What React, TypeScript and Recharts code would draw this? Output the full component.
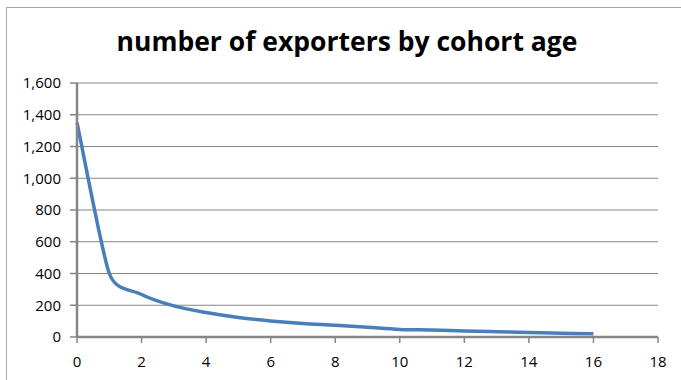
import React from "react";
import { LineChart, Line, XAxis, YAxis, CartesianGrid } from "recharts";

// Cohort age (years) and the number of exporters still active at that age
const cohortAge = [0, 1, 2, 3, 4, 5, 6, 7, 8, 9, 10, 11, 12, 13, 14, 15, 16];
const exporters = [1350, 400, 268, 196, 154, 123, 101, 85, 74, 61, 48, 44, 38, 33, 28, 24, 20];

const xTicks = [0, 2, 4, 6, 8, 10, 12, 14, 16, 18];
const yTicks = [0, 200, 400, 600, 800, 1000, 1200, 1400, 1600];

const chartTitle = "number of exporters by cohort age";

const data = cohortAge.map((age, i) => ({ age, count: exporters[i] }));

const FONT = "'Open Sans', 'Noto Sans', sans-serif";
const AXIS = "#868686";

const fmt = (v: number) => v.toLocaleString("en-US");

type Pt = [number, number];
const dist = (a: Pt, b: Pt) => Math.hypot(b[0] - a[0], b[1] - a[1]);

// Spreadsheet-style smoothed line: at each vertex the tangent follows the
// chord between its neighbours, with arms of one sixth of that chord,
// shortened to half of the shorter adjacent segment so nothing overshoots.
function smoothCurve(context: any) {
  let pts: Pt[] = [];
  const arm = (i: number): Pt => {
    const n = pts.length;
    const prev = pts[Math.max(0, i - 1)];
    const next = pts[Math.min(n - 1, i + 1)];
    const dx = next[0] - prev[0];
    const dy = next[1] - prev[1];
    const chord = Math.hypot(dx, dy);
    if (chord === 0) return [0, 0];
    let len = chord / 6;
    const segs: number[] = [];
    if (i > 0) segs.push(dist(pts[i - 1], pts[i]));
    if (i < n - 1) segs.push(dist(pts[i], pts[i + 1]));
    const limit = Math.min(...segs) / 2;
    if (len > limit) len = limit;
    return [(dx / chord) * len, (dy / chord) * len];
  };
  return {
    areaStart() {},
    areaEnd() {},
    lineStart() {
      pts = [];
    },
    point(x: number, y: number) {
      pts.push([+x, +y]);
    },
    lineEnd() {
      const n = pts.length;
      if (!n) return;
      context.moveTo(pts[0][0], pts[0][1]);
      for (let i = 0; i < n - 1; i++) {
        const a = arm(i);
        const b = arm(i + 1);
        const p1 = pts[i];
        const p2 = pts[i + 1];
        context.bezierCurveTo(
          p1[0] + a[0],
          p1[1] + a[1],
          p2[0] - b[0],
          p2[1] - b[1],
          p2[0],
          p2[1]
        );
      }
    },
  };
}

export default function App() {
  return (
    <div
      style={{
        position: "absolute",
        left: 0,
        top: 0,
        width: 681,
        height: 380,
        background: "#ffffff",
        overflow: "hidden",
        fontFamily: FONT,
      }}
    >
      {/* chart frame: only its top and left edges fall inside the view */}
      <div
        style={{
          position: "absolute",
          left: 6,
          top: 7,
          width: 700,
          height: 400,
          borderLeft: "1px solid #a6a6a6",
          borderTop: "1px solid #a6a6a6",
          boxSizing: "border-box",
        }}
      />
      <div
        style={{
          position: "absolute",
          left: 0,
          width: 694,
          top: 24,
          textAlign: "center",
          fontSize: 26.5,
          fontWeight: 700,
          color: "#000",
          lineHeight: "34px",
        }}
      >
        {chartTitle}
      </div>
      <div style={{ position: "absolute", left: 0, top: 0 }}>
        <LineChart
          width={681}
          height={380}
          data={data}
          margin={{ top: 83, right: 23, bottom: 13, left: 17 }}
        >
          <CartesianGrid vertical={false} stroke={AXIS} strokeWidth={1} />
          <XAxis
            dataKey="age"
            type="number"
            domain={[0, 18]}
            ticks={xTicks}
            interval={0}
            height={30}
            axisLine={{ stroke: AXIS, strokeWidth: 2.5 }}
            tickLine={{ stroke: AXIS, strokeWidth: 1.5 }}
            tickSize={6}
            tickMargin={13}
            tick={{ fill: "#000", fontSize: 15, fontFamily: FONT }}
          />
          <YAxis
            type="number"
            domain={[0, 1600]}
            ticks={yTicks}
            interval={0}
            width={60}
            tickFormatter={fmt}
            axisLine={{ stroke: AXIS, strokeWidth: 2.5 }}
            tickLine={{ stroke: AXIS, strokeWidth: 1.5 }}
            tickSize={7}
            tickMargin={9}
            tick={{ fill: "#000", fontSize: 15, fontFamily: FONT }}
          />
          <Line
            type={smoothCurve as any}
            dataKey="count"
            stroke="#4a7ebb"
            strokeWidth={3.5}
            dot={false}
            isAnimationActive={false}
          />
        </LineChart>
      </div>
    </div>
  );
}
